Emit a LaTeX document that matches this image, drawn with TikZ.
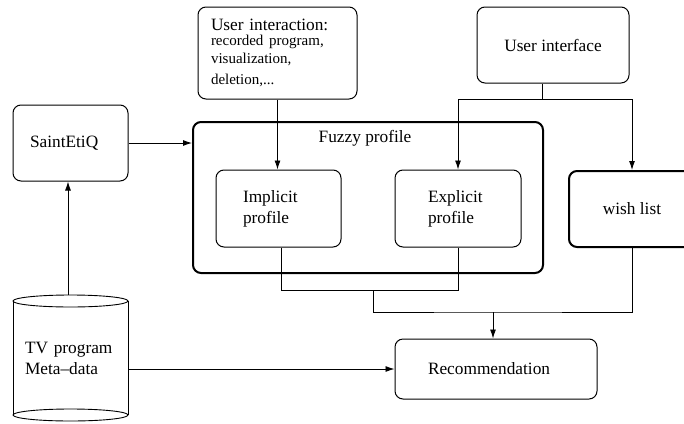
\documentclass[tikz,border=0pt]{standalone}
\usepackage{fontspec}
\setmainfont{Liberation Serif}
\usetikzlibrary{arrows.meta}
\begin{document}
\begin{tikzpicture}[x=1pt,y=-1pt,
  box/.style={draw, line width=1pt, rounded corners=8pt, inner sep=0pt,
    font=\fontsize{17.3}{21}\selectfont},
  thickbox/.style={box, line width=2pt},
  arr/.style={-{Latex[length=9pt,width=6pt]}, line width=0.9pt},
  ln/.style={line width=0.9pt}]
\useasboundingbox (0,0) rectangle (684,423);
% nodes
\node[box, minimum width=159, minimum height=92, text width=133, align=left] (ui) at (277.5,53)
  {User interaction:\\[-3pt]{\fontsize{15}{18}\selectfont recorded program,\\ visualization,\\ deletion,...}};
\node[box, minimum width=152, minimum height=76, align=center] (uif) at (553,45) {User interface};
\node[box, minimum width=115, minimum height=76, text width=81, align=left] (se) at (70.5,143) {SaintEtiQ};
\node[thickbox, minimum width=350, minimum height=151] (fp) at (368,197.5) {};
\node[font=\fontsize{17.3}{21}\selectfont] (fpl) at (365,138) {Fuzzy profile};
\node[box, minimum width=125, minimum height=77, text width=71, align=left] (imp) at (278.5,208.5) {Implicit\\ profile};
\node[box, minimum width=126, minimum height=77, text width=60, align=left] (exp) at (458,208.5) {Explicit\\ profile};
\node[thickbox, minimum width=126, minimum height=76, align=center] (wl) at (632,209) {wish list};
\node[box, minimum width=202, minimum height=60, text width=136, align=left] (rec) at (496,369) {Recommendation};
\node[minimum width=115, minimum height=126, inner sep=0pt, text width=91, align=left,
  font=\fontsize{17.3}{21}\selectfont] (db) at (70.5,358) {TV program\\ Meta--data};
% cylinder outline
\draw[ln] (13,301) -- (13,415) (128,301) -- (128,415);
\draw[ln] (70.5,301) ellipse [x radius=57.5, y radius=6];
\draw[ln] (70.5,415) ellipse [x radius=57.5, y radius=6];
% connectors
\coordinate (j1) at (542,99);
\coordinate (j2) at (373,290);
\coordinate (j3) at (493,312);
\draw[arr] (ui.south) -- (ui.south |- imp.north);
\draw[ln] (j1 |- uif.south) -- (j1);
\draw[arr] (j1) -| (exp.north);
\draw[arr] (j1) -| (wl.north);
\draw[arr] (se.east) -- (se.east -| fp.west);
\draw[arr] ([xshift=-2.5pt]db.north) -- ([xshift=-2.5pt]se.south);
\draw[arr] (rec.west -| db.east) -- (rec.west);
\draw[ln] ([xshift=2.5pt]imp.south) |- (j2 -| exp.south) -- (exp.south);
\draw[ln] (j2) |- (j3) -| (wl.south);
\draw[arr] (j3) -- (j3 |- rec.north);
\end{tikzpicture}
\end{document}
